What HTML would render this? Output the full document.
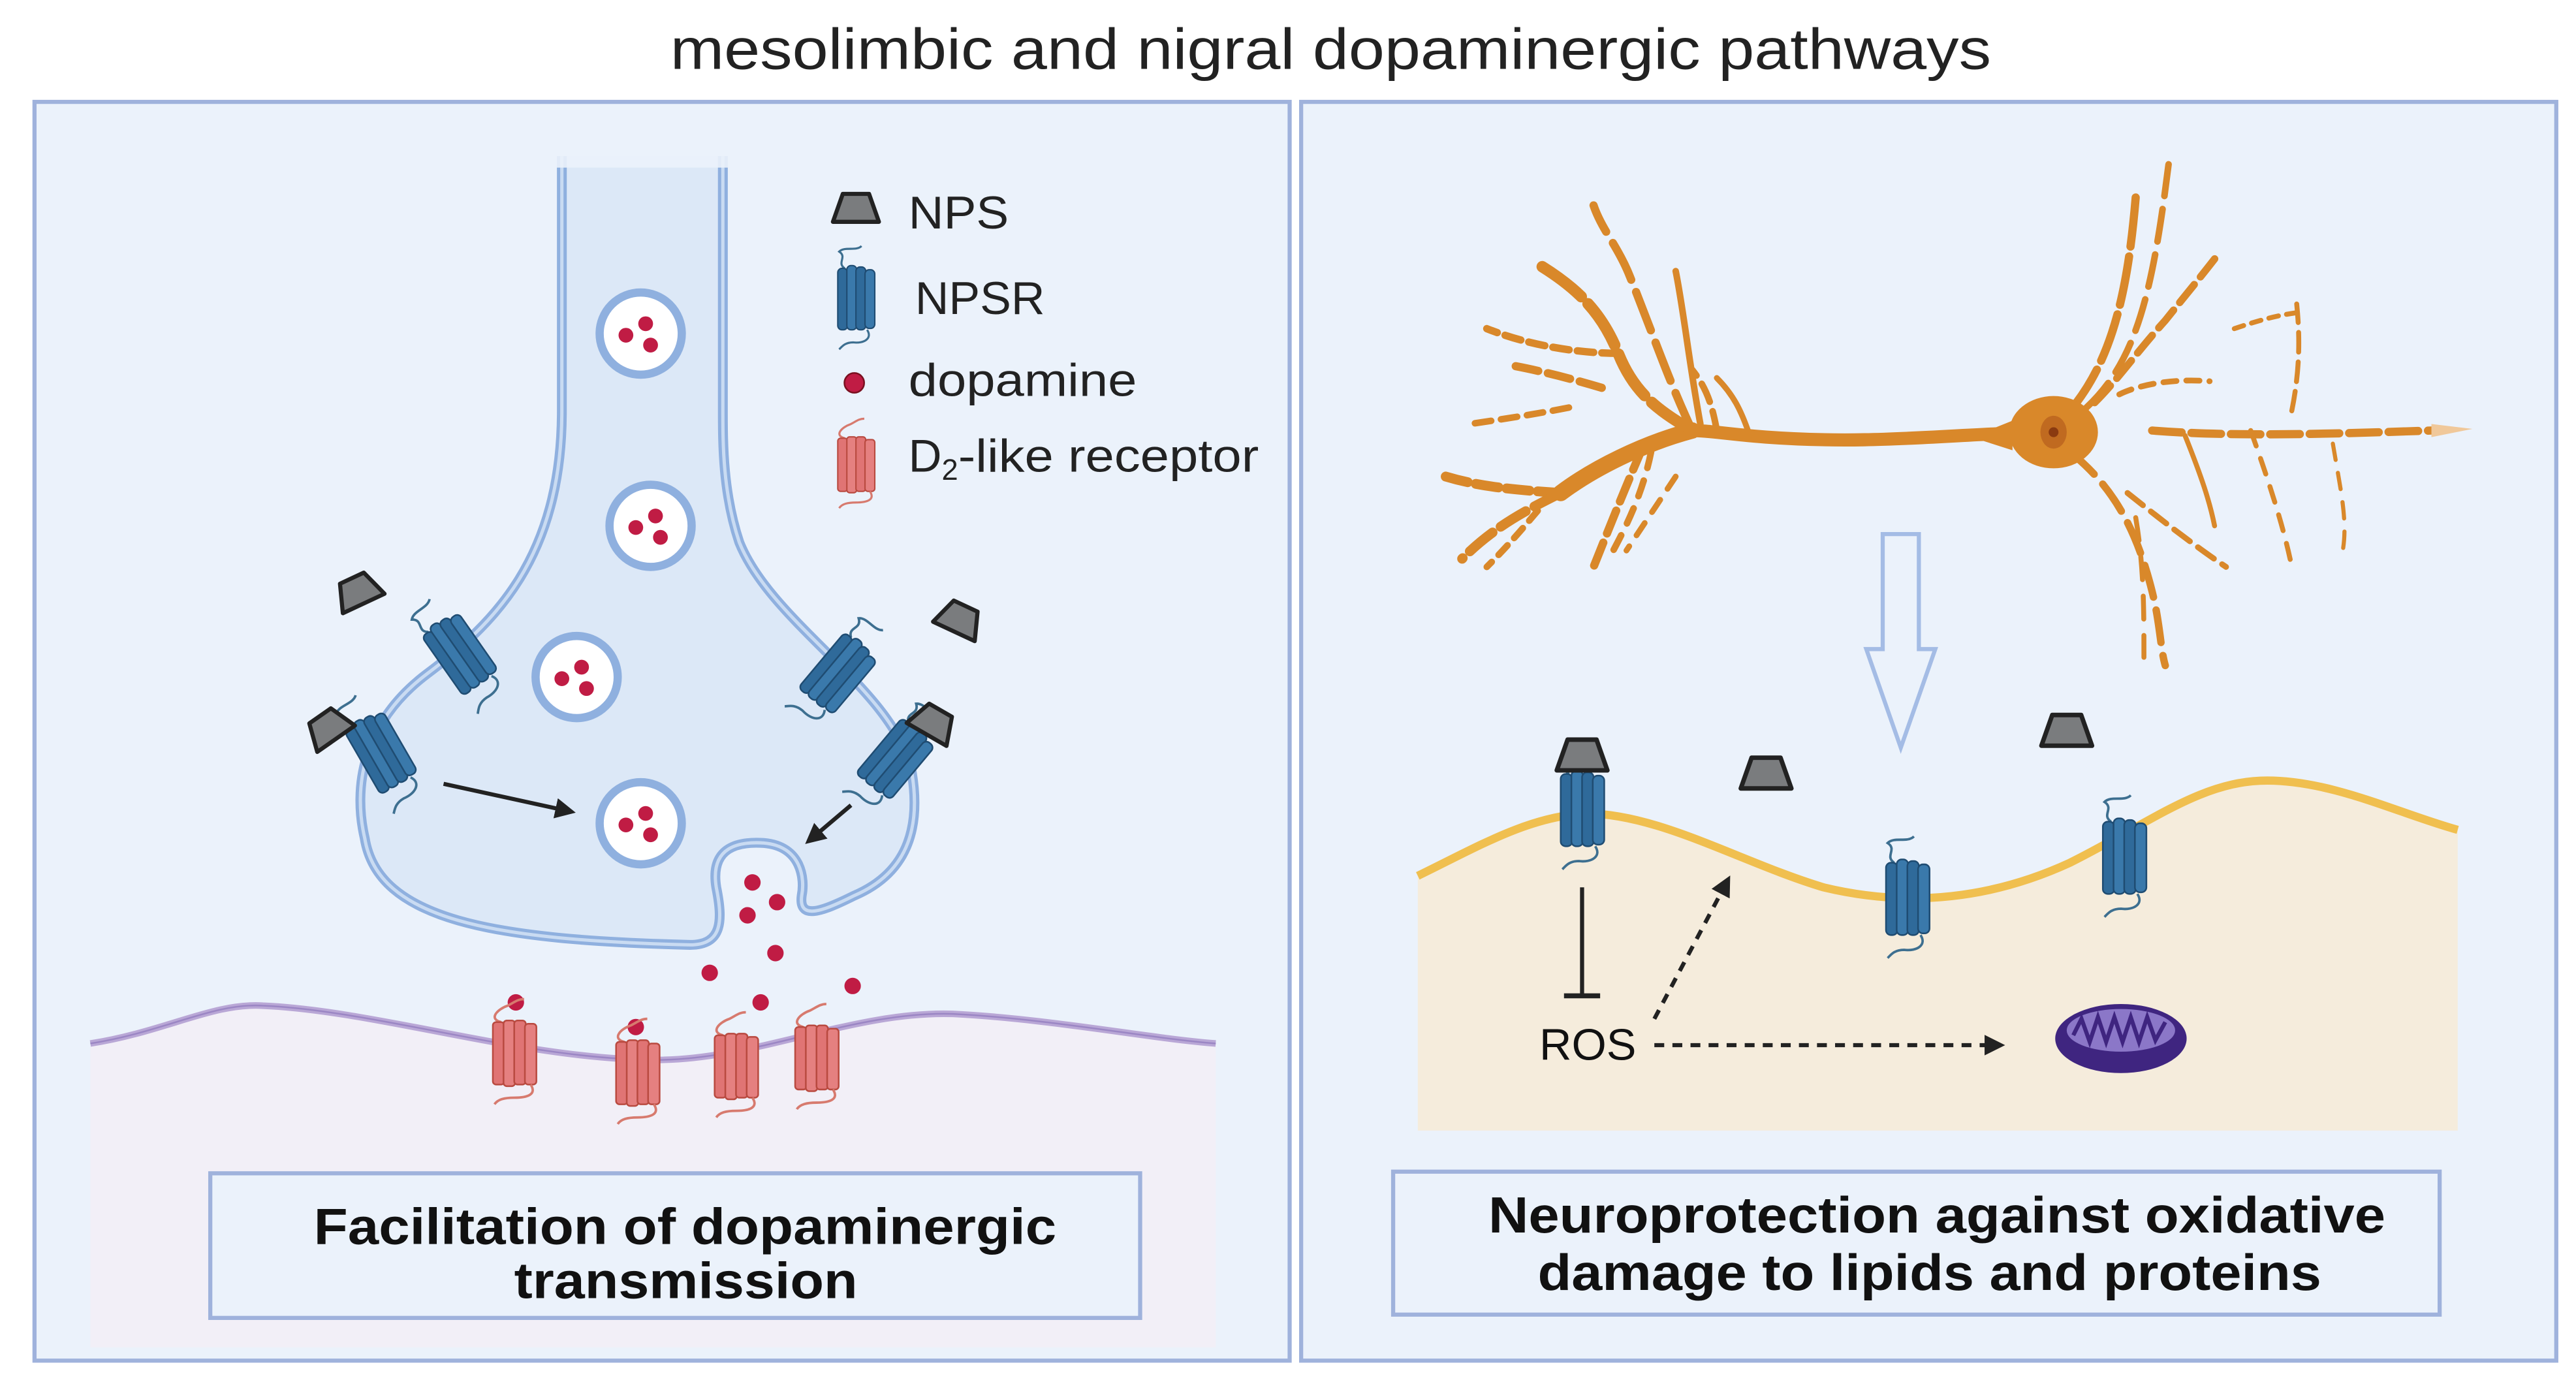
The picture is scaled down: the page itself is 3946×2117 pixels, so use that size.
<!DOCTYPE html>
<html><head><meta charset="utf-8"><style>
html,body{margin:0;padding:0;background:#fff;}
svg{display:block;}
text{font-family:"Liberation Sans",sans-serif;}
</style></head><body>
<svg width="3946" height="2117" viewBox="0 0 1568 841" preserveAspectRatio="none" xmlns="http://www.w3.org/2000/svg">
<defs>
<g id="npsr">
  <path d="M-8,-22 C-14,-26 -6,-30 -12,-34 C-8,-38 0,-34 4,-38" fill="none" stroke="#3d6f90" stroke-width="1.5"/>
  <rect x="-13" y="-22" width="7" height="44" rx="3" fill="#2f6a9a" stroke="#1f4c72" stroke-width="1"/>
  <rect x="-6.5" y="-24" width="7" height="46" rx="3" fill="#3a79ab" stroke="#1f4c72" stroke-width="1"/>
  <rect x="0" y="-23" width="7" height="45" rx="3" fill="#2f6a9a" stroke="#1f4c72" stroke-width="1"/>
  <rect x="6.5" y="-21" width="7" height="42" rx="3" fill="#3a79ab" stroke="#1f4c72" stroke-width="1"/>
  <path d="M8,22 C12,28 6,32 -2,31 C-8,31 -10,34 -12,36" fill="none" stroke="#3d6f90" stroke-width="1.5"/>
</g>
<g id="d2">
  <path d="M-8,-18 C-16,-20 -10,-26 -4,-28 C0,-30 2,-32 6,-32" fill="none" stroke="#d77a6e" stroke-width="1.5"/>
  <rect x="-13" y="-18" width="7" height="38" rx="2" fill="#e07474" stroke="#b94a40" stroke-width="1"/>
  <rect x="-6.5" y="-19" width="7" height="40" rx="2" fill="#e58080" stroke="#b94a40" stroke-width="1"/>
  <rect x="0" y="-19" width="7" height="39" rx="2" fill="#e07474" stroke="#b94a40" stroke-width="1"/>
  <rect x="6.5" y="-17" width="7" height="37" rx="2" fill="#e58080" stroke="#b94a40" stroke-width="1"/>
  <path d="M10,20 C14,26 8,28 0,28 C-6,28 -10,29 -12,32" fill="none" stroke="#d77a6e" stroke-width="1.5"/>
</g>
<g id="nps"><path d="M-8,-9 L8,-9 L14,8 L-14,8 Z" fill="#7a7c7e" stroke="#222" stroke-width="2.5" stroke-linejoin="round"/></g>
<g id="ves">
  <circle r="25" fill="#fff" stroke="#8fb0df" stroke-width="5"/>
  <circle cx="-9" cy="1" r="4.5" fill="#c01c44"/><circle cx="3" cy="-6" r="4.5" fill="#c01c44"/><circle cx="6" cy="7" r="4.5" fill="#c01c44"/>
</g>
<marker id="ah" viewBox="0 0 10 10" refX="8" refY="5" markerWidth="5" markerHeight="5" orient="auto"><path d="M0,0 L10,5 L0,10 Z" fill="#222"/></marker>
</defs>

<text x="408" y="42" font-size="35" textLength="804" lengthAdjust="spacingAndGlyphs" fill="#222">mesolimbic and nigral dopaminergic pathways</text>

<!-- LEFT PANEL -->
<rect x="21" y="62" width="764" height="766" fill="#ebf2fb" stroke="#9fb2dc" stroke-width="2.5"/>
<path d="M55,635 C100,628 130,610 160,612 C230,615 320,645 400,645 C460,645 520,615 580,617 C640,620 700,632 740,635 L740,820 L55,820 Z" fill="#f2eff7"/>
<path d="M55,635 C100,628 130,610 160,612 C230,615 320,645 400,645 C460,645 520,615 580,617 C640,620 700,632 740,635" fill="none" stroke="#b9a7d6" stroke-width="4"/>
<path d="M55,635 C100,628 130,610 160,612 C230,615 320,645 400,645 C460,645 520,615 580,617 C640,620 700,632 740,635" fill="none" stroke="#9b86c4" stroke-width="1"/>

<!-- terminal -->
<path d="M342,95 L342,250 C342,340 300,380 260,410 C220,440 215,480 222,510 C230,560 300,572 420,575 C440,575 440,560 436,540 C432,515 450,512 465,513 C488,515 490,535 488,545 C486,560 500,555 520,545 C555,530 560,500 555,470 C545,420 470,380 450,330 C440,300 440,270 440,250 L440,95" fill="#dce8f7" stroke="#8fb0df" stroke-width="6"/>
<path d="M342,95 L342,250 C342,340 300,380 260,410 C220,440 215,480 222,510 C230,560 300,572 420,575 C440,575 440,560 436,540 C432,515 450,512 465,513 C488,515 490,535 488,545 C486,560 500,555 520,545 C555,530 560,500 555,470 C545,420 470,380 450,330 C440,300 440,270 440,250 L440,95" fill="none" stroke="#c9dbf2" stroke-width="2"/>
<rect x="336" y="80" width="112" height="22" fill="#ebf2fb" opacity="0.9"/>

<use href="#ves" x="390" y="203"/>
<use href="#ves" x="396" y="320"/>
<use href="#ves" x="351" y="412"/>
<use href="#ves" x="390" y="501"/>

<g fill="#c01c44">
<circle cx="458" cy="537" r="5"/><circle cx="473" cy="549" r="5"/><circle cx="455" cy="557" r="5"/>
<circle cx="472" cy="580" r="5"/><circle cx="432" cy="592" r="5"/><circle cx="463" cy="610" r="5"/>
<circle cx="519" cy="600" r="5"/><circle cx="314" cy="610" r="5"/><circle cx="387" cy="625" r="5"/>
</g>
<use href="#d2" x="313" y="640"/>
<use href="#d2" x="388" y="652"/>
<use href="#d2" x="448" y="648"/>
<use href="#d2" x="497" y="643"/>

<use href="#npsr" transform="translate(280,398) rotate(-35)"/>
<use href="#npsr" transform="translate(232,458) rotate(-30)"/>
<use href="#npsr" transform="translate(510,410) rotate(40)"/>
<use href="#npsr" transform="translate(545,462) rotate(40)"/>
<use href="#nps" transform="translate(218,360) rotate(-25)"/>
<use href="#nps" transform="translate(200,443) rotate(-35)"/>
<use href="#nps" transform="translate(584,377) rotate(25)"/>
<use href="#nps" transform="translate(568,440) rotate(30)"/>

<line x1="270" y1="477" x2="348" y2="494" stroke="#222" stroke-width="2.5" marker-end="url(#ah)"/>
<line x1="518" y1="490" x2="492" y2="512" stroke="#222" stroke-width="2.5" marker-end="url(#ah)"/>

<!-- legend -->
<use href="#nps" x="521" y="127"/>
<text x="553" y="139" font-size="28" textLength="61" lengthAdjust="spacingAndGlyphs" fill="#222">NPS</text>
<use href="#npsr" transform="translate(521,182) scale(0.85)"/>
<text x="557" y="191" font-size="28" textLength="79" lengthAdjust="spacingAndGlyphs" fill="#222">NPSR</text>
<circle cx="520" cy="233" r="6" fill="#c01c44" stroke="#7a1020" stroke-width="1"/>
<text x="553" y="241" font-size="28" textLength="139" lengthAdjust="spacingAndGlyphs" fill="#222">dopamine</text>
<use href="#d2" transform="translate(521,282) scale(0.85)"/>
<text x="553" y="287" font-size="28" fill="#222">D<tspan font-size="18" dy="5">2</tspan><tspan dy="-5" textLength="183" lengthAdjust="spacingAndGlyphs">-like receptor</tspan></text>

<rect x="128" y="714" width="566" height="88" fill="#ebf2fb" stroke="#9fb2dc" stroke-width="2.5"/>
<text x="191" y="757" font-size="31" font-weight="bold" textLength="452" lengthAdjust="spacingAndGlyphs" fill="#111">Facilitation of dopaminergic</text>
<text x="313" y="790" font-size="31" font-weight="bold" textLength="209" lengthAdjust="spacingAndGlyphs" fill="#111">transmission</text>

<!-- RIGHT PANEL -->
<rect x="792" y="62" width="764" height="766" fill="#ebf2fb" stroke="#9fb2dc" stroke-width="2.5"/>

<!-- neuron -->
<g fill="none" stroke="#d9882a" stroke-linecap="round">
<path d="M1215,264 C1170,266 1130,270 1075,266 C1050,264 1040,262 1030,262" stroke-width="8"/>
<path d="M1030,262 C1000,270 970,285 950,300" stroke-width="10"/>
<path d="M950,300 C930,310 910,320 890,340" stroke-width="6" stroke-dasharray="18 6"/>
<path d="M950,300 C920,298 900,296 880,290" stroke-width="6" stroke-dasharray="14 5"/>
<path d="M1030,262 C1010,250 995,240 985,215 C975,190 960,175 935,160" stroke-width="7" stroke-dasharray="30 6"/>
<path d="M985,215 C960,215 930,210 905,200" stroke-width="4.5" stroke-dasharray="10 5"/>
<path d="M1030,262 C1015,230 1005,200 992,168 C985,150 975,140 970,125" stroke-width="5" stroke-dasharray="25 8"/>
<path d="M1035,258 C1028,220 1025,190 1020,165" stroke-width="4"/>
<path d="M1045,262 C1042,245 1038,235 1030,225" stroke-width="4" stroke-dasharray="12 6"/>
<path d="M1000,272 C990,295 980,320 970,345" stroke-width="5" stroke-dasharray="15 6"/>
<path d="M1005,275 C1000,300 990,320 982,335" stroke-width="4" stroke-dasharray="10 8"/>
<path d="M955,248 C935,252 915,255 895,258" stroke-width="4" stroke-dasharray="10 6"/>
<path d="M975,236 C955,230 935,225 918,222" stroke-width="5" stroke-dasharray="14 6"/>
<path d="M945,300 C930,318 920,330 905,345" stroke-width="4" stroke-dasharray="8 6"/>
<path d="M1020,290 C1010,305 1000,320 990,335" stroke-width="3.5" stroke-dasharray="9 8"/>
<path d="M1065,265 C1060,250 1055,240 1045,230" stroke-width="3.5"/>
<path d="M1310,262 C1360,266 1420,264 1480,262" stroke-width="5" stroke-dasharray="18 6"/>
<path d="M1260,250 C1285,220 1295,180 1300,120" stroke-width="5" stroke-dasharray="30 6"/>
<path d="M1270,248 C1300,220 1310,180 1320,100" stroke-width="4" stroke-dasharray="20 8"/>
<path d="M1275,245 C1290,230 1300,215 1318,195 C1330,180 1340,168 1350,155" stroke-width="4.5" stroke-dasharray="14 6"/>
<path d="M1290,240 C1300,235 1320,230 1345,232" stroke-width="3.5" stroke-dasharray="8 6"/>
<path d="M1260,275 C1285,295 1300,320 1310,360 C1315,380 1315,395 1318,405" stroke-width="4.5" stroke-dasharray="20 8"/>
<path d="M1295,300 C1320,320 1340,335 1355,345" stroke-width="3.5" stroke-dasharray="12 6"/>
<path d="M1330,265 C1340,290 1345,305 1348,320" stroke-width="3"/>
<path d="M1370,262 C1380,290 1390,320 1395,345" stroke-width="3" stroke-dasharray="10 8"/>
<path d="M1395,250 C1400,225 1400,205 1398,185" stroke-width="3" stroke-dasharray="12 6"/>
<path d="M1360,200 C1375,195 1385,192 1400,190" stroke-width="3" stroke-dasharray="6 5"/>
<path d="M1300,315 C1305,345 1305,370 1305,400" stroke-width="3" stroke-dasharray="14 10"/>
<path d="M1420,270 C1425,300 1430,320 1425,340" stroke-width="2.5" stroke-dasharray="10 8"/>
</g>
<path d="M1480,258 L1505,261 L1480,266 Z" fill="#f0c89a"/>
<ellipse cx="1250" cy="263" rx="27" ry="22" fill="#d9882a"/>
<path d="M1225,256 L1200,266 L1225,274 Z" fill="#d9882a"/>
<ellipse cx="1250" cy="263" rx="8" ry="10" fill="#c06a20"/>
<circle cx="1250" cy="263" r="3" fill="#8a3a10"/>

<!-- hollow arrow -->
<path d="M1146,325 L1168,325 L1168,395 L1178,395 L1157,455 L1136,395 L1146,395 Z" fill="none" stroke="#a4bce5" stroke-width="2.5"/>

<!-- membrane -->
<path d="M863,533 C900,515 930,497 965,495 C1010,495 1060,525 1110,540 C1160,552 1210,548 1260,525 C1310,500 1340,475 1380,475 C1420,475 1460,495 1496,505 L1496,688 L863,688 Z" fill="#f5ecdc"/>
<path d="M863,533 C900,515 930,497 965,495 C1010,495 1060,525 1110,540 C1160,552 1210,548 1260,525 C1310,500 1340,475 1380,475 C1420,475 1460,495 1496,505" fill="none" stroke="#f0bf4f" stroke-width="5"/>

<use href="#npsr" x="963" y="493"/>
<use href="#npsr" x="1161" y="547"/>
<use href="#npsr" x="1293" y="522"/>
<use href="#nps" transform="translate(963,460) scale(1.1)"/>
<use href="#nps" transform="translate(1075,471) scale(1.1)"/>
<use href="#nps" transform="translate(1258,445) scale(1.1)"/>

<line x1="963" y1="540" x2="963" y2="606" stroke="#222" stroke-width="2.5"/>
<line x1="952" y1="606" x2="974" y2="606" stroke="#222" stroke-width="3"/>
<text x="937" y="645" font-size="27" textLength="59" lengthAdjust="spacingAndGlyphs" fill="#111">ROS</text>
<line x1="1007" y1="620" x2="1052" y2="535" stroke="#222" stroke-width="2.5" stroke-dasharray="6 5" marker-end="url(#ah)"/>
<line x1="1007" y1="636" x2="1218" y2="636" stroke="#222" stroke-width="2.5" stroke-dasharray="6 5" marker-end="url(#ah)"/>

<ellipse cx="1291" cy="632" rx="40" ry="21" fill="#3f2580"/>
<ellipse cx="1291" cy="627" rx="33" ry="13" fill="#8b77c8"/>
<path d="M1262,630 L1267,620 L1272,634 L1277,619 L1282,634 L1287,619 L1292,634 L1297,619 L1302,634 L1307,619 L1312,633 L1318,622" fill="none" stroke="#3f2580" stroke-width="2.5"/>

<rect x="848" y="713" width="637" height="87" fill="#ebf2fb" stroke="#9fb2dc" stroke-width="2.5"/>
<text x="906" y="750" font-size="31" font-weight="bold" textLength="546" lengthAdjust="spacingAndGlyphs" fill="#111">Neuroprotection against oxidative</text>
<text x="936" y="785" font-size="31" font-weight="bold" textLength="477" lengthAdjust="spacingAndGlyphs" fill="#111">damage to lipids and proteins</text>
</svg>
</body></html>
